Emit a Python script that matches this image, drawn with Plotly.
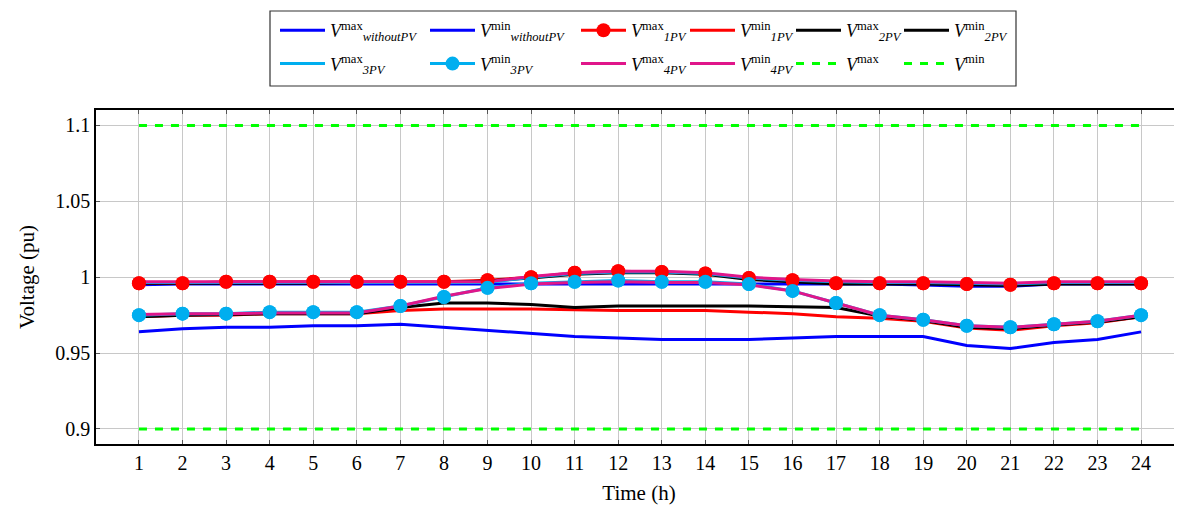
import plotly.graph_objects as go

hours = list(range(1, 25))

v_wo_max = [0.995, 0.9955, 0.9955, 0.9955, 0.9955, 0.9955, 0.9955, 0.9955, 0.9955, 0.9955, 0.9955, 0.9952,
            0.9952, 0.9952, 0.9952, 0.9955, 0.9955, 0.9955, 0.9948, 0.994, 0.994, 0.9955, 0.9955, 0.9955]
v_wo_min = [0.964, 0.966, 0.967, 0.967, 0.968, 0.968, 0.969, 0.967, 0.965, 0.963, 0.961, 0.960,
            0.959, 0.959, 0.959, 0.960, 0.961, 0.961, 0.961, 0.955, 0.953, 0.957, 0.959, 0.964]
v1_max = [0.996, 0.996, 0.997, 0.997, 0.997, 0.997, 0.997, 0.997, 0.998, 1.000, 1.003, 1.004,
          1.0035, 1.0025, 0.9995, 0.998, 0.996, 0.996, 0.996, 0.9955, 0.995, 0.996, 0.996, 0.996]
v1_min = [0.974, 0.975, 0.975, 0.976, 0.976, 0.976, 0.978, 0.979, 0.979, 0.979, 0.9785, 0.978,
          0.978, 0.978, 0.977, 0.976, 0.974, 0.973, 0.971, 0.9665, 0.965, 0.968, 0.970, 0.974]
v2_max = [0.996, 0.996, 0.996, 0.996, 0.996, 0.9965, 0.9965, 0.9965, 0.9975, 0.9995, 1.002, 1.003,
          1.003, 1.002, 0.9985, 0.997, 0.9955, 0.9955, 0.9955, 0.995, 0.9945, 0.9955, 0.9955, 0.9955]
v2_min = [0.974, 0.975, 0.9755, 0.976, 0.976, 0.976, 0.980, 0.983, 0.983, 0.982, 0.980, 0.981,
          0.981, 0.981, 0.981, 0.9805, 0.980, 0.9745, 0.9715, 0.967, 0.966, 0.9685, 0.9705, 0.974]
v3_max = [0.9965, 0.9965, 0.9965, 0.9965, 0.9965, 0.9965, 0.9965, 0.9965, 0.9965, 1.000, 1.0025, 1.0035,
          1.0035, 1.0025, 0.9995, 0.998, 0.997, 0.9965, 0.9965, 0.996, 0.9955, 0.9965, 0.9965, 0.9965]
v3_min = [0.975, 0.976, 0.976, 0.977, 0.977, 0.977, 0.981, 0.987, 0.993, 0.996, 0.997, 0.9978,
          0.997, 0.997, 0.9955, 0.991, 0.983, 0.975, 0.972, 0.968, 0.967, 0.969, 0.971, 0.975]
v4_max = [0.997, 0.997, 0.997, 0.997, 0.997, 0.997, 0.997, 0.997, 0.997, 1.0005, 1.003, 1.004,
          1.004, 1.003, 1.000, 0.9985, 0.9975, 0.997, 0.997, 0.9965, 0.996, 0.997, 0.997, 0.997]
v4_min = [0.9755, 0.976, 0.976, 0.9765, 0.9765, 0.9765, 0.981, 0.9875, 0.9925, 0.9955, 0.9965, 0.997,
          0.9965, 0.9965, 0.995, 0.991, 0.983, 0.975, 0.972, 0.968, 0.967, 0.969, 0.971, 0.975]
v_lim_max = [1.1] * 24
v_lim_min = [0.9] * 24

y_tickvals = [0.9, 0.95, 1.0, 1.05, 1.1]
y_ticktext = ["0.9", "0.95", "1", "1.05", "1.1"]
x_ticktext = [str(h) for h in hours]

BLUE = "#0000FF"
RED = "#FF0000"
BLACK = "#000000"
CYAN = "#00AEEF"
PINK = "#E0168A"
GREEN = "#00FF00"
FONT = "Liberation Serif"

OFF = 8  # page body margin
W, H = 1182 - OFF, 505 - OFF
ML, MR, MT, MB = 96 - OFF, 0, 110 - OFF, 61
PW, PH = W - ML - MR, H - MT - MB

def px_to_paper_x(px):
    return (px - OFF - ML) / PW

def py_to_paper_y(py):
    return (H - MB - (py - OFF)) / PH

def lab(sup, sub):
    return f"<i>V</i><sup>{sup}</sup><sub><i>{sub}</i></sub>"

# (y, name, color, dash, mode, legend id, rank, showlegend)
specs = [
    (v_wo_max, lab("max", "withoutPV"), BLUE, "solid", "lines", "legend", 1, True),
    (v_wo_min, lab("min", "withoutPV"), BLUE, "solid", "lines", "legend2", 1, True),
    (v1_max, lab("max", "1PV"), RED, "solid", "lines+markers", "legend3", 1, True),
    (v1_min, lab("min", "1PV"), RED, "solid", "lines", "legend4", 1, True),
    (v2_max, lab("max", "2PV"), BLACK, "solid", "lines", "legend5", 1, True),
    (v2_min, lab("min", "2PV"), BLACK, "solid", "lines", "legend6", 1, True),
    (v3_max, lab("max", "3PV"), CYAN, "solid", "lines", "legend", 2, True),
    (v3_min, lab("min", "3PV"), CYAN, "solid", "lines+markers", "legend2", 2, True),
    (v4_max, lab("max", "4PV"), PINK, "solid", "lines", "legend3", 2, True),
    (v4_min, lab("min", "4PV"), PINK, "solid", "lines", "legend4", 2, True),
    (v_lim_max, "<i>V</i><sup>max</sup>", GREEN, "8px,8px", "lines", "legend5", 2, True),
    (v_lim_min, "<i>V</i><sup>min</sup>", GREEN, "8px,8px", "lines", "legend6", 2, True),
    # markers re-drawn on top of the pink lines, as in the reference
    (v1_max, lab("max", "1PV"), RED, "solid", "markers", "legend3", 9, False),
    (v3_min, lab("min", "3PV"), CYAN, "solid", "markers", "legend2", 9, False),
]

fig = go.Figure()
for i, (y, name, color, dash, mode, leg, rank, show) in enumerate(specs):
    kw = dict(x=hours, y=y, name=name, mode=mode,
              line=dict(color=color, width=3, dash=dash),
              legend=leg, legendrank=rank, legendgroup=f"g{i}", showlegend=show)
    if "markers" in mode:
        kw["marker"] = dict(size=14, color=color)
    fig.add_trace(go.Scatter(**kw))

col_px = [280, 430, 581, 690, 796, 904]
leg_ids = ["legend", "legend2", "legend3", "legend4", "legend5", "legend6"]
legend_layout = {}
for lid, px in zip(leg_ids, col_px):
    legend_layout[lid] = dict(
        x=px_to_paper_x(px - 5), y=py_to_paper_y(12),
        xanchor="left", yanchor="top",
        orientation="v", bgcolor="rgba(0,0,0,0)", borderwidth=0,
        font=dict(family=FONT, size=18, color="black"), tracegroupgap=7,
        itemwidth=45, traceorder="grouped",
    )

fig.add_shape(type="rect", xref="paper", yref="paper",
              x0=px_to_paper_x(270), x1=px_to_paper_x(1016),
              y0=py_to_paper_y(86), y1=py_to_paper_y(11),
              line=dict(color="#333333", width=1.2), fillcolor="rgba(0,0,0,0)", layer="above")

fig.update_layout(
    width=W, height=H,
    margin=dict(l=ML, r=MR, t=MT, b=MB, autoexpand=False),
    plot_bgcolor="white", paper_bgcolor="white",
    font=dict(family=FONT, size=20, color="black"),
    showlegend=True,
    **legend_layout,
)
fig.update_xaxes(
    range=[0.014, 24.94], tickvals=hours, ticktext=x_ticktext,
    showgrid=True, gridcolor="#C8C8C8", gridwidth=1,
    showline=True, linecolor="black", linewidth=1.5, mirror="ticks",
    ticks="inside", ticklen=4, tickcolor="#555555",
    title=dict(text="Time (h)", font=dict(size=21)),
    tickfont=dict(size=20), zeroline=False, automargin=False,
)
fig.update_yaxes(
    range=[0.8901, 1.1102], tickvals=y_tickvals, ticktext=y_ticktext,
    showgrid=True, gridcolor="#C8C8C8", gridwidth=1,
    showline=True, linecolor="black", linewidth=1.5, mirror=False,
    ticks="inside", ticklen=4, tickcolor="#555555",
    title=dict(text="Voltage (pu)", font=dict(size=21)),
    tickfont=dict(size=20), zeroline=False, automargin=False,
)

fig.write_html("out.html")
